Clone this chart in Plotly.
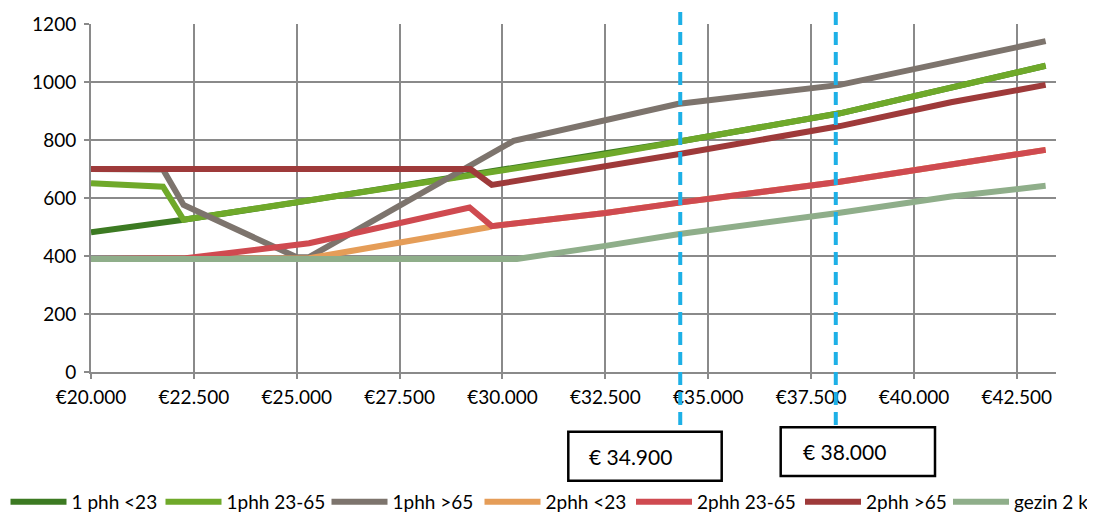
import plotly.graph_objects as go

# ---- data ----
series_names = ["1 phh <23", "1phh 23-65", "1phh >65", "2phh <23", "2phh 23-65", "2phh >65", "gezin 2 k"]

x_1phh_lt23 = [20000, 22250, 25000, 27500, 30000, 32500, 34300, 38200, 43200]
y_1phh_lt23 = [482, 525, 585, 641, 697, 750, 795, 892, 1056]

x_1phh_23_65 = [20000, 21750, 22250, 25000, 27500, 30000, 32500, 34300, 38200, 43200]
y_1phh_23_65 = [651, 639, 525, 585, 641, 697, 750, 795, 892, 1056]

x_1phh_gt65 = [20000, 21750, 22250, 25000, 25300, 30270, 34250, 38200, 43200]
y_1phh_gt65 = [700, 698, 576, 396, 396, 797, 924, 990, 1141]

x_2phh_lt23 = [20000, 25300, 29650, 29740, 32500, 34300, 38200, 43200]
y_2phh_lt23 = [390, 392, 499, 503, 548, 584, 656, 766]

x_2phh_23_65 = [20000, 22300, 25300, 29200, 29740, 32500, 34300, 38200, 43200]
y_2phh_23_65 = [390, 392, 444, 567, 503, 548, 584, 656, 766]

x_2phh_gt65 = [20000, 29220, 29740, 32500, 34300, 38200, 40900, 43200]
y_2phh_gt65 = [700, 700, 645, 708, 752, 848, 930, 990]

x_gezin = [20000, 30350, 32500, 34300, 38200, 40900, 43200]
y_gezin = [390, 390, 435, 476, 549, 605, 642]

x_tick_values = [20000, 22500, 25000, 27500, 30000, 32500, 35000, 37500, 40000, 42500]
x_tick_labels = ["€20.000", "€22.500", "€25.000", "€27.500", "€30.000",
                 "€32.500", "€35.000", "€37.500", "€40.000", "€42.500"]
y_tick_values = [0, 200, 400, 600, 800, 1000, 1200]

marker_x = [34320, 38100]
marker_labels = ["€ 34.900", "€ 38.000"]

colors = ["#3c7a22", "#6fa92a", "#7d746d", "#e59d58", "#cf4a50", "#9e3a3a", "#8fae8a"]

xs = [x_1phh_lt23, x_1phh_23_65, x_1phh_gt65, x_2phh_lt23, x_2phh_23_65, x_2phh_gt65, x_gezin]
ys = [y_1phh_lt23, y_1phh_23_65, y_1phh_gt65, y_2phh_lt23, y_2phh_23_65, y_2phh_gt65, y_gezin]

# legend layout: first four entries in legend 1, last three in legend 2
legend_ids = ["legend", "legend", "legend", "legend", "legend2", "legend2", "legend2"]
legend_text_widths = [84, 95, 82, 92, 98, 77, 80]

W, H = 1095, 516
OFF = 8  # page offset of the figure div (body margin)
plot_left, plot_right, plot_top, plot_bottom = 91, 1056, 24, 372  # page pixels
ml = plot_left - OFF
mt = plot_top - OFF
mr = W - (plot_right - OFF)
mb = H - (plot_bottom - OFF)
pw, ph = plot_right - plot_left, plot_bottom - plot_top

def px_x(px):
    return (px - plot_left) / pw

def px_y(py):
    return (plot_bottom - py) / ph

fig = go.Figure()
for name, x, y, c, lg, lw in zip(series_names, xs, ys, colors, legend_ids, legend_text_widths):
    fig.add_trace(go.Scatter(x=x, y=y, name=name, mode="lines", legend=lg, legendwidth=lw,
                             line=dict(color=c, width=6)))

grid = "#8a8a8a"
legend_font = dict(family="Lato", size=19, color="#000000")
fig.update_layout(
    width=W, height=H,
    margin=dict(l=ml, r=mr, t=mt, b=mb, autoexpand=False),
    paper_bgcolor="white", plot_bgcolor="white",
    font=dict(family="Lato", size=19, color="#000000"),
    showlegend=True,
    legend=dict(orientation="h", x=px_x(5.5), xanchor="left", y=px_y(502), yanchor="middle",
                itemwidth=56, font=legend_font, bgcolor="rgba(0,0,0,0)"),
    legend2=dict(orientation="h", x=px_x(631), xanchor="left", y=px_y(502), yanchor="middle",
                 itemwidth=56, font=legend_font, bgcolor="rgba(0,0,0,0)"),
    xaxis=dict(range=[20000, 43452], tickvals=x_tick_values, ticktext=x_tick_labels,
               showgrid=True, gridcolor=grid, gridwidth=2, showline=True, linecolor=grid,
               linewidth=2, ticks="outside", ticklen=5, tickwidth=2, tickcolor=grid,
               zeroline=False, ticklabelstandoff=2),
    yaxis=dict(range=[0, 1200], tickvals=y_tick_values, showgrid=True, gridcolor=grid,
               gridwidth=2, showline=True, linecolor=grid, linewidth=2, ticks="outside",
               ticklen=5, tickwidth=2, tickcolor=grid, zeroline=False, ticklabelstandoff=4),
)

# dashed marker lines
box_tops = [431.7, 427.3]
for mx, bt in zip(marker_x, box_tops):
    fig.add_shape(type="line", xref="x", yref="paper", x0=mx, x1=mx,
                  y0=px_y(12), y1=px_y(bt),
                  line=dict(color="#1db0e6", width=4, dash="13px,7px"), layer="above")

# label boxes
boxes = [(568.3, 721.7, 431.7, 480.7, 587, 456.7), (780.7, 935, 427.3, 476, 800.7, 451.7)]
for (x0, x1, y0, y1, tx, ty), lab in zip(boxes, marker_labels):
    fig.add_shape(type="rect", xref="paper", yref="paper",
                  x0=px_x(x0), x1=px_x(x1), y0=px_y(y1), y1=px_y(y0),
                  line=dict(color="black", width=2.5), fillcolor="white", layer="above")
    fig.add_annotation(xref="paper", yref="paper", x=px_x(tx), y=px_y(ty),
                       xanchor="left", yanchor="middle", text=lab, showarrow=False,
                       font=dict(family="Lato", size=21, color="black"))

fig.write_html("out.html")
